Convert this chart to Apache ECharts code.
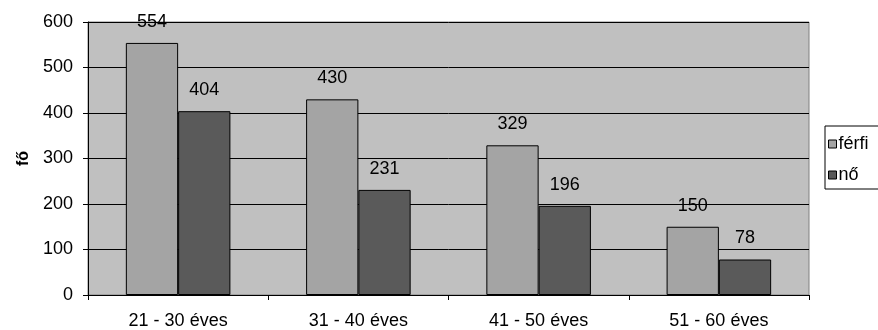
<!DOCTYPE html>
<html>
<head>
<meta charset="utf-8">
<script src="https://cdn.jsdelivr.net/npm/echarts@6/dist/echarts.min.js"></script>
<style>
  html, body { margin: 0; padding: 0; background: #fff; }
  #chart { width: 878px; height: 330px; }
</style>
</head>
<body>
<div id="chart"></div>
<script>
// Age groups and head counts by sex
const categories = ['21 - 30 éves', '31 - 40 éves', '41 - 50 éves', '51 - 60 éves'];
const ferfi = [554, 430, 329, 150];
const no = [404, 231, 196, 78];
const yTicks = [0, 100, 200, 300, 400, 500, 600];

const FONT = 'Liberation Sans, Arial, sans-serif';
const chart = echarts.init(document.getElementById('chart'), null, { renderer: 'canvas' });

const labelStyle = {
  show: true,
  position: 'top',
  distance: 12,
  color: '#000',
  fontFamily: FONT,
  fontSize: 18
};

chart.setOption({
  animation: false,
  textStyle: { fontFamily: FONT },
  grid: {
    left: 88, right: 69, top: 22, bottom: 34,
    show: true,
    backgroundColor: '#c0c0c0',
    borderColor: '#808080',
    borderWidth: 1
  },
  legend: {
    orient: 'vertical',
    left: 825, top: 126,
    padding: [9, 30, 5, 3],
    itemGap: 13,
    itemWidth: 8, itemHeight: 8,
    backgroundColor: '#fff',
    borderColor: '#000',
    borderWidth: 1,
    borderRadius: 0,
    icon: 'rect',
    textStyle: { fontFamily: FONT, fontSize: 18, lineHeight: 18, color: '#000', padding: [0, 0, 0, -3] },
    data: [
      { name: 'férfi', itemStyle: { borderColor: '#000', borderWidth: 1 } },
      { name: 'nő', itemStyle: { borderColor: '#000', borderWidth: 1 } }
    ]
  },
  xAxis: {
    type: 'category',
    data: categories,
    axisLine: { lineStyle: { color: '#000', width: 1 } },
    axisTick: { show: true, length: 5, inside: false, lineStyle: { color: '#000' } },
    axisLabel: { color: '#000', fontFamily: FONT, fontSize: 18, margin: 17 }
  },
  yAxis: {
    type: 'value',
    min: yTicks[0],
    max: yTicks[yTicks.length - 1],
    interval: 100,
    name: 'fő',
    nameLocation: 'middle',
    nameGap: 52,
    nameRotate: 90,
    nameTextStyle: { color: '#000', fontFamily: FONT, fontSize: 16, fontWeight: 'bold' },
    axisLine: { show: true, lineStyle: { color: '#000', width: 1 } },
    axisTick: { show: true, length: 5, lineStyle: { color: '#000' } },
    axisLabel: { color: '#000', fontFamily: FONT, fontSize: 18, margin: 15 },
    splitLine: { show: true, lineStyle: { color: '#000', width: 1 } }
  },
  series: [
    {
      name: 'férfi',
      type: 'bar',
      data: ferfi,
      barGap: '0%',
      barCategoryGap: '42%',
      itemStyle: { color: '#a4a4a4', borderColor: '#000', borderWidth: 1 },
      label: labelStyle
    },
    {
      name: 'nő',
      type: 'bar',
      data: no,
      itemStyle: { color: '#5a5a5a', borderColor: '#000', borderWidth: 1 },
      label: labelStyle
    }
  ]
});
</script>
</body>
</html>
